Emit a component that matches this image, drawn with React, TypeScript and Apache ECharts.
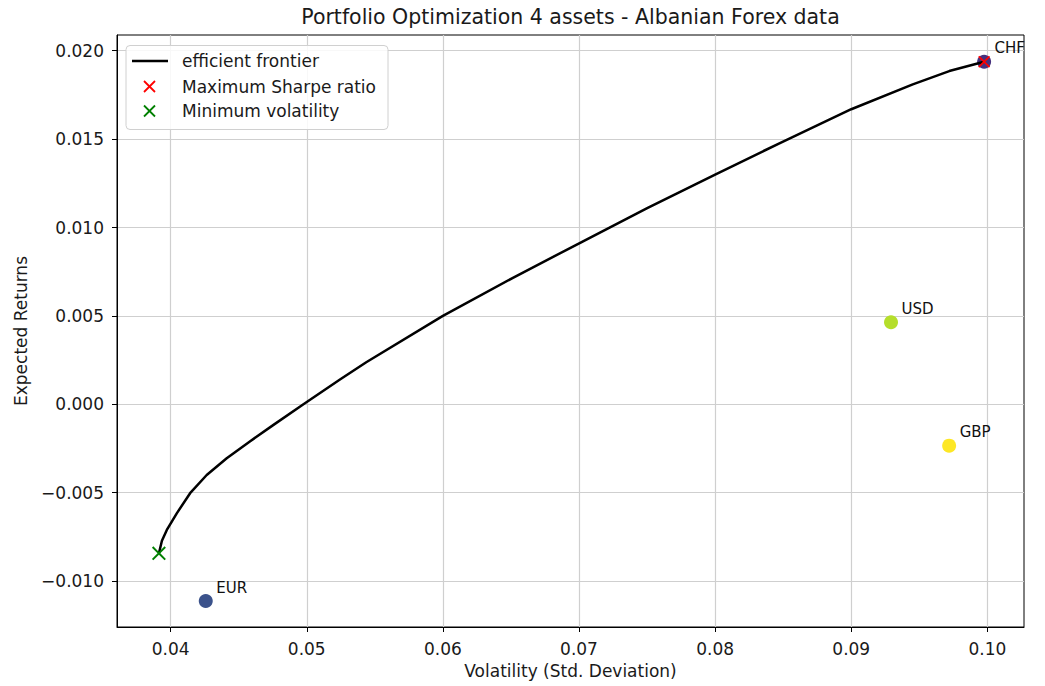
import { useEffect, useRef } from "react";
import * as echarts from "echarts";

const assetNames = ["EUR", "USD", "GBP", "CHF"];
const assetVolatility = [0.04258, 0.09292, 0.09719, 0.09976];
const assetReturns = [-0.01113, 0.00464, -0.00234, 0.01938];
const assetColors = ["#3b528b", "#b5de2b", "#fde725", "#46317e"];

const frontierVolatility = [
  0.03914, 0.03936, 0.03972, 0.04045, 0.04143, 0.04265, 0.04412, 0.04582, 0.04753, 0.04973,
  0.05244, 0.05437, 0.06, 0.06511, 0.07012, 0.07501, 0.08, 0.08476, 0.09, 0.09452, 0.0972, 0.09976,
];
const frontierReturns = [
  -0.00843, -0.00772, -0.00711, -0.00617, -0.00503, -0.004, -0.00305, -0.0021, -0.00118, -0.00001,
  0.0014, 0.00238, 0.005, 0.00714, 0.00915, 0.0111, 0.01299, 0.01478, 0.01669, 0.0181, 0.01885, 0.01938,
];

const maxSharpePoint = [0.09976, 0.01938];
const minVolatilityPoint = [0.03914, -0.00843];

const xTicks = [0.04, 0.05, 0.06, 0.07, 0.08, 0.09, 0.1];
const yTicks = [-0.01, -0.005, 0, 0.005, 0.01, 0.015, 0.02];

const legendLabels = ["efficient frontier", "Maximum Sharpe ratio", "Minimum volatility"];
const titleText = "Portfolio Optimization 4 assets - Albanian Forex data";
const xName = "Volatility (Std. Deviation)";
const yName = "Expected Returns";

const FONT = "DejaVu Sans";
const X_PATH = "path://M0,1L1,0L5,4L9,0L10,1L6,5L10,9L9,10L5,6L1,10L0,9L4,5Z";

function crossLines(cx: number, cy: number, s: number, color: string) {
  const h = s / 2;
  return [
    { type: "line", z: 101, shape: { x1: cx - h, y1: cy - h, x2: cx + h, y2: cy + h }, style: { stroke: color, lineWidth: 1.8 } },
    { type: "line", z: 101, shape: { x1: cx - h, y1: cy + h, x2: cx + h, y2: cy - h }, style: { stroke: color, lineWidth: 1.8 } },
  ];
}

export default function App() {
  const ref = useRef<HTMLDivElement>(null);
  useEffect(() => {
    if (!ref.current) return;
    const chart = echarts.init(ref.current, null, { renderer: "svg" });
    const fmtY = (v: number) => v.toFixed(3).replace("-", "\u2212");
    const legendTop = [61, 86.5, 111];
    chart.setOption({
      animation: false,
      backgroundColor: "#ffffff",
      textStyle: { fontFamily: FONT },
      grid: { left: 117, right: 21, top: 35, bottom: 59, show: true, borderColor: "#000", borderWidth: 1, backgroundColor: "transparent" },
      xAxis: {
        type: "value",
        min: 0.03606,
        max: 0.10269,
        name: xName,
        nameLocation: "middle",
        nameGap: 35,
        nameTextStyle: { fontSize: 17, color: "#1a1a1a", fontFamily: FONT },
        axisLine: { show: true, onZero: false, lineStyle: { color: "#000", width: 1 } },
        axisTick: { show: true, length: 5, lineStyle: { color: "#000" }, customValues: xTicks },
        axisLabel: { fontSize: 17, color: "#1a1a1a", margin: 13, fontFamily: FONT, customValues: xTicks, formatter: (v: number) => v.toFixed(2) },
        splitLine: { show: true, lineStyle: { color: "#cfcfcf", width: 1.2 } },
      },
      yAxis: {
        type: "value",
        min: -0.0126,
        max: 0.02089,
        name: yName,
        nameLocation: "middle",
        nameGap: 88,
        nameTextStyle: { fontSize: 17, color: "#1a1a1a", fontFamily: FONT },
        axisLine: { show: true, onZero: false, lineStyle: { color: "#000", width: 1 } },
        axisTick: { show: true, length: 5, lineStyle: { color: "#000" }, customValues: yTicks },
        axisLabel: { fontSize: 17, color: "#1a1a1a", margin: 13, fontFamily: FONT, customValues: yTicks, formatter: fmtY },
        splitLine: { show: true, lineStyle: { color: "#cfcfcf", width: 1.2 } },
      },
      series: [
        {
          type: "scatter",
          name: "assets",
          z: 2,
          symbolSize: 14,
          itemStyle: { opacity: 1 },
          data: assetVolatility.map((v, i) => ({ value: [v, assetReturns[i]], itemStyle: { color: assetColors[i], opacity: 1 } })),
          label: {
            show: true,
            position: "right",
            distance: 0,
            offset: [3.5, -13.5],
            fontSize: 15,
            color: "#111",
            fontFamily: FONT,
            formatter: (p: any) => assetNames[p.dataIndex],
          },
        },
        {
          type: "line",
          name: legendLabels[0],
          z: 3,
          showSymbol: false,
          symbol: "none",
          smooth: false,
          lineStyle: { color: "#000", width: 2.5, join: "round" },
          data: frontierVolatility.map((v, i) => [v, frontierReturns[i]]),
        },
        {
          type: "scatter",
          name: legendLabels[1],
          z: 4,
          symbol: X_PATH,
          symbolSize: 12,
          itemStyle: { color: "#ff0000", opacity: 1 },
          data: [maxSharpePoint],
        },
        {
          type: "scatter",
          name: legendLabels[2],
          z: 4,
          symbol: X_PATH,
          symbolSize: 14,
          itemStyle: { color: "#008000", opacity: 1 },
          data: [minVolatilityPoint],
        },
      ],
      graphic: [
        {
          type: "text",
          x: 570.5,
          y: 17,
          style: { text: titleText, align: "center", verticalAlign: "middle", fontSize: 20.5, fill: "#1a1a1a", fontFamily: FONT },
        },
        {
          type: "rect",
          z: 100,
          shape: { x: 126, y: 45.5, width: 262, height: 84, r: 4 },
          style: { fill: "rgba(255,255,255,0.85)", stroke: "#d0d0d0", lineWidth: 1 },
        },
        { type: "line", z: 101, shape: { x1: 132, y1: legendTop[0], x2: 168, y2: legendTop[0] }, style: { stroke: "#000", lineWidth: 2.5 } },
        ...crossLines(149.5, legendTop[1], 11, "#ff0000"),
        ...crossLines(149.5, legendTop[2], 11, "#008000"),
        ...legendLabels.map((t, i) => ({
          type: "text",
          z: 101,
          x: 182,
          y: legendTop[i],
          style: { text: t, align: "left", verticalAlign: "middle", fontSize: 17, fill: "#1a1a1a", fontFamily: FONT },
        })),
      ],
    });
    return () => chart.dispose();
  }, []);
  return <div ref={ref} style={{ position: "fixed", left: 0, top: 0, width: 1045, height: 686 }} />;
}
